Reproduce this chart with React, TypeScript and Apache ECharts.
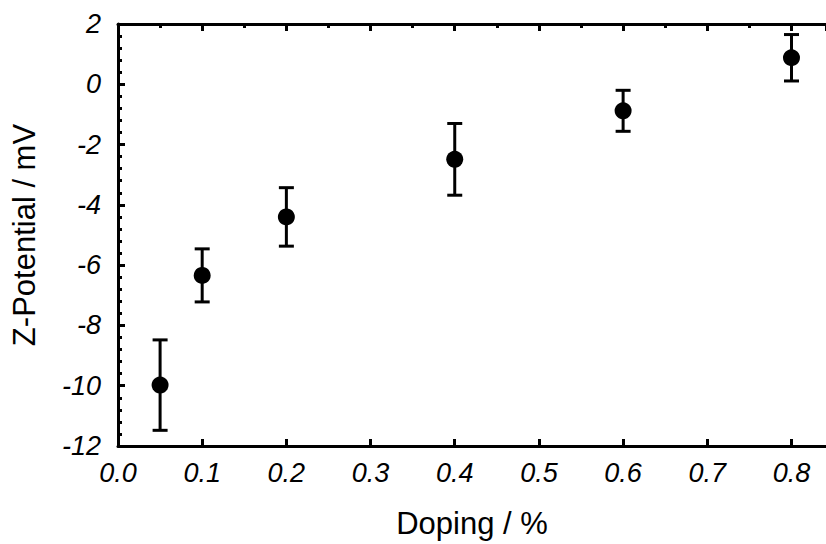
import React, { useEffect, useRef } from "react";
import * as echarts from "echarts";

const doping = [0.05, 0.1, 0.2, 0.4, 0.6, 0.8];
const zPotential = [-9.98, -6.34, -4.4, -2.49, -0.88, 0.88];
const zError = [1.5, 0.88, 0.97, 1.19, 0.68, 0.77];
const xTitle = "Doping / %";
const yTitle = "Z-Potential / mV";

export default function App() {
  const ref = useRef<HTMLDivElement>(null);
  useEffect(() => {
    if (!ref.current) return;
    const chart = echarts.init(ref.current, null, { renderer: "svg" });
    const points = doping.map((x, i) => [x, zPotential[i]]);
    const errs = doping.map((x, i) => [x, zPotential[i], zError[i]]);
    const font = "'Liberation Sans', Arial, sans-serif";
    const axisLine = { show: true, onZero: false, lineStyle: { color: "#000", width: 3 } };
    chart.setOption({
      animation: false,
      backgroundColor: "#fff",
      grid: { left: 118, right: 0, top: 24, bottom: 98 },
      xAxis: [
        {
          type: "value",
          position: "bottom",
          min: 0,
          max: 0.841,
          interval: 0.1,
          axisLine,
          axisTick: { show: true, inside: true, length: 7, lineStyle: { color: "#000", width: 3 } },
          minorTick: { show: false },
          splitLine: { show: false },
          axisLabel: {
            color: "#000",
            fontSize: 27,
            fontStyle: "italic",
            fontFamily: font,
            margin: 13,
            showMaxLabel: false,
            formatter: (v: number) => v.toFixed(1),
          },
          name: xTitle,
          nameLocation: "middle",
          nameGap: 62,
          nameTextStyle: { color: "#000", fontSize: 31, fontFamily: font },
        },
        {
          type: "value",
          position: "top",
          min: 0,
          max: 0.841,
          interval: 0.1,
          axisLine,
          axisTick: { show: true, inside: true, length: 7, lineStyle: { color: "#000", width: 3 } },
          minorTick: { show: true, splitNumber: 2, length: 4, lineStyle: { color: "#000", width: 3 } },
          splitLine: { show: false },
          minorSplitLine: { show: false },
          axisLabel: { show: false },
        },
      ],
      yAxis: {
        type: "value",
        min: -12,
        max: 2,
        interval: 2,
        axisLine,
        axisTick: { show: true, inside: true, length: 7, lineStyle: { color: "#000", width: 3 } },
        minorTick: { show: true, splitNumber: 5, length: 4, lineStyle: { color: "#000", width: 3 } },
        splitLine: { show: false },
        minorSplitLine: { show: false },
        axisLabel: {
          color: "#000",
          fontSize: 27,
          fontStyle: "italic",
          fontFamily: font,
          margin: 17,
        },
        name: yTitle,
        nameLocation: "middle",
        nameGap: 78,
        nameTextStyle: { color: "#000", fontSize: 31, fontFamily: font },
      },
      series: [
        {
          type: "custom",
          xAxisIndex: 0,
          data: errs,
          renderItem: (params: any, api: any) => {
            const x = api.value(0);
            const y = api.value(1);
            const e = api.value(2);
            const top = api.coord([x, y + e]);
            const bot = api.coord([x, y - e]);
            const hw = 7.5;
            const style = { stroke: "#000", lineWidth: 3 };
            return {
              type: "group",
              children: [
                { type: "line", shape: { x1: top[0], y1: top[1], x2: bot[0], y2: bot[1] }, style },
                { type: "line", shape: { x1: top[0] - hw, y1: top[1], x2: top[0] + hw, y2: top[1] }, style },
                { type: "line", shape: { x1: bot[0] - hw, y1: bot[1], x2: bot[0] + hw, y2: bot[1] }, style },
              ],
            };
          },
          z: 2,
        },
        {
          type: "scatter",
          xAxisIndex: 0,
          data: points,
          symbol: "circle",
          symbolSize: 17,
          itemStyle: { color: "#000", opacity: 1 },
          z: 3,
        },
      ],
    });
    return () => chart.dispose();
  }, []);
  return (
    <div
      ref={ref}
      style={{ position: "fixed", left: 0, top: 0, width: 826, height: 544, background: "#fff" }}
    />
  );
}
